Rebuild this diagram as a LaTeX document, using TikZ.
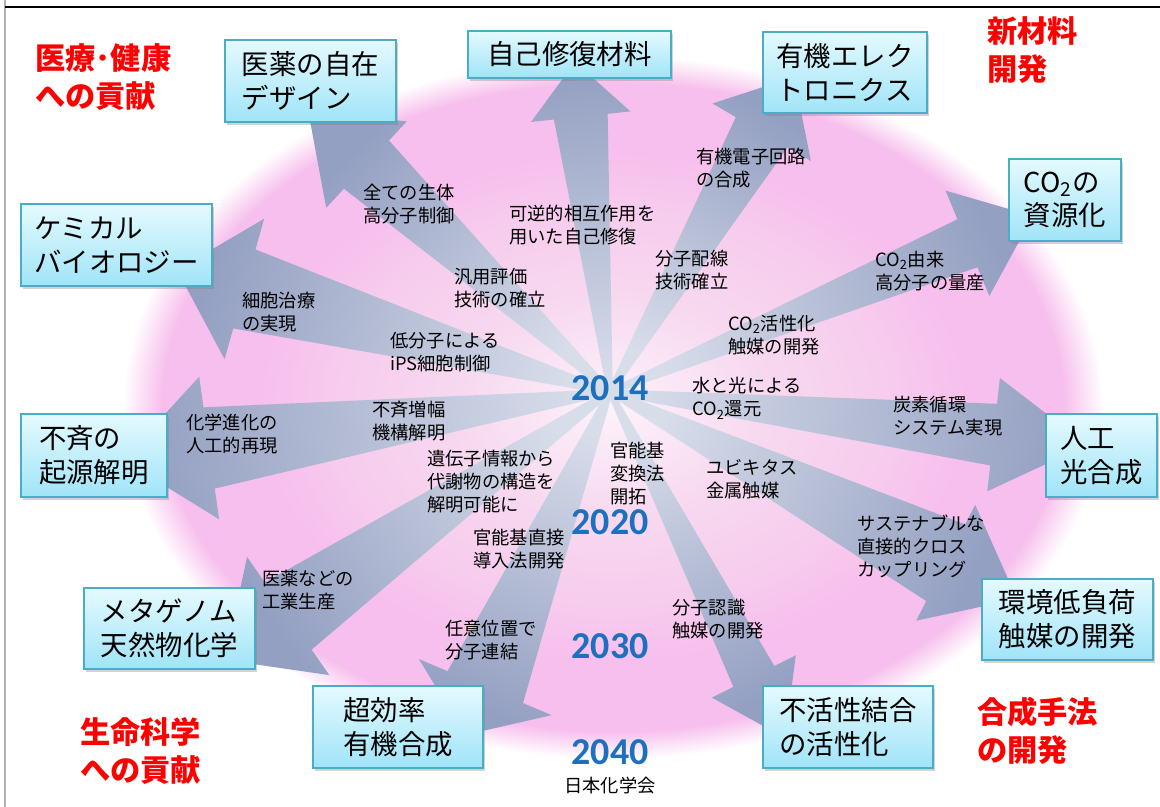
\documentclass[tikz,border=0pt]{standalone}
\usepackage{fontspec}
\setmainfont{Noto Sans CJK JP}
\newfontfamily\yearfont{Carlito}
\usepackage{tikz}
\usetikzlibrary{calc,shadows,positioning}

\definecolor{boxtop}{RGB}{228,250,254}
\definecolor{boxbot}{RGB}{160,228,248}
\definecolor{boxline}{RGB}{75,172,198}
\definecolor{raydark}{RGB}{148,160,194}
\definecolor{raylight}{RGB}{216,221,234}
\definecolor{goalred}{RGB}{255,0,0}
\definecolor{yearblue}{RGB}{28,112,190}
\definecolor{pinkcore}{RGB}{253,242,251}
\definecolor{pinklight}{RGB}{247,216,239}
\definecolor{pinkmid}{RGB}{247,204,238}
\definecolor{pinkdeep}{RGB}{247,191,237}

\pgfdeclareradialshading{glow}{\pgfpoint{0bp}{0bp}}{color(0bp)=(pinkcore); color(8bp)=(pinklight); color(14bp)=(pinkmid); color(18bp)=(pinkdeep); color(23bp)=(pinkdeep); color(25bp)=(white); color(50bp)=(white)}

\tikzstyle{box} = [rectangle, draw=boxline, line width=0.9pt, top color=boxtop, bottom color=boxbot, align=left, font=\fontsize{19.5}{24}\selectfont, drop shadow={opacity=0.35, shadow xshift=1.5pt, shadow yshift=-2pt}]
\tikzstyle{goal} = [anchor=west, align=left, text=goalred, inner sep=0pt, font=\bfseries\fontsize{21.5}{27}\selectfont]
\tikzstyle{note} = [anchor=west, align=left, inner sep=0pt, font=\fontsize{13}{16.3}\selectfont]
\tikzstyle{year} = [text=yearblue, inner sep=0pt, font=\yearfont\bfseries\fontsize{27}{27}\selectfont]
\tikzstyle{ray} = [top color=raydark, bottom color=raylight]

% wide tapered arrow: from, tip, head length, body half width, head half width (px)
\newcommand{\bigarrow}[5]{%
  \pgfmathanglebetweenpoints{\pgfpointanchor{#1}{center}}{\pgfpointanchor{#2}{center}}%
  \pgfmathsetmacro{\rayang}{\pgfmathresult-90}%
  \path ($(#2)!#3*0.025cm!(#1)$) coordinate (hb);%
  \shade [ray, shading angle=\rayang] ($(#1)!2pt!90:(#2)$) -- ($(hb)!#4*0.025cm!90:(#2)$) -- ($(hb)!#5*0.025cm!90:(#2)$) -- (#2) -- ($(hb)!#5*0.025cm!-90:(#2)$) -- ($(hb)!#4*0.025cm!-90:(#2)$) -- ($(#1)!2pt!-90:(#2)$) -- cycle;%
}

\begin{document}
\begin{tikzpicture}[x=0.025cm, y=-0.025cm]
\useasboundingbox (0,0) rectangle (1160,807);

% background
\shade [shading=glow] (613,407) ellipse [x radius=12.25cm, y radius=8.8cm];
\draw [gray!60, line width=1.2pt] (5,0) -- (5,807);
\draw [line width=0.9pt] (5,7) -- (1160,7);

\coordinate (hub) at (610,392);
\coordinate (tmed) at (308,110);
\coordinate (tself) at (575,62);
\coordinate (telec) at (794,77);
\coordinate (tco2) at (1033,216);
\coordinate (tchem) at (177,270);
\coordinate (tchiral) at (123,460);
\coordinate (tphoto) at (1087,445);
\coordinate (tgreen) at (1017,599);
\coordinate (tinert) at (785,738);
\coordinate (tmeta) at (225,660);
\coordinate (tsynth) at (465,735);

\bigarrow{hub}{tmed}{80}{33}{59}
\bigarrow{hub}{tself}{55}{27}{50}
\bigarrow{hub}{telec}{64}{30}{57}
\bigarrow{hub}{tco2}{71}{26}{57}
\bigarrow{hub}{tchem}{70}{41}{73}
\bigarrow{hub}{tchiral}{87}{41}{72}
\bigarrow{hub}{tphoto}{94}{31}{57}
\bigarrow{hub}{tgreen}{80}{43}{65}
\bigarrow{hub}{tinert}{69}{23}{47}
\bigarrow{hub}{tmeta}{77}{41}{72}
\bigarrow{hub}{tsynth}{52}{41}{72}

% milestones
\node (n1) [note] at (363,204.5) {全ての生体\\高分子制御};
\node (n2) [note] at (509,225) {可逆的相互作用を\\用いた自己修復};
\node (n3) [note] at (696,168) {有機電子回路\\の合成};
\node (n4) [note] at (655,270.5) {分子配線\\技術確立};
\node (n5) [note] at (454,288.5) {汎用評価\\技術の確立};
\node (n6) [note] at (390,352.5) {低分子による\\iPS細胞制御};
\node (n7) [note] at (242,312.5) {細胞治療\\の実現};
\node (n8) [note] at (372,421) {不斉増幅\\機構解明};
\node (n9) [note] at (186,434.5) {化学進化の\\人工的再現};
\node (n10) [note] at (427,482) {遺伝子情報から\\代謝物の構造を\\解明可能に};
\node (n11) [note] at (610,473.5) {官能基\\変換法\\開拓};
\node (n12) [note] at (473,549.5) {官能基直接\\導入法開発};
\node (n13) [note] at (706,479.5) {ユビキタス\\金属触媒};
\node (n14) [note] at (692,398.5) {水と光による\\CO\textsubscript{2}還元};
\node (n15) [note] at (728,335) {CO\textsubscript{2}活性化\\触媒の開発};
\node (n16) [note] at (875,271) {CO\textsubscript{2}由来\\高分子の量産};
\node (n17) [note] at (893,416) {炭素循環\\システム実現};
\node (n18) [note] at (857,546.5) {サステナブルな\\直接的クロス\\カップリング};
\node (n19) [note] at (672,619.5) {分子認識\\触媒の開発};
\node (n20) [note] at (445,640) {任意位置で\\分子連結};
\node (n21) [note] at (262,590) {医薬などの\\工業生産};

% years
\node (y2014) [year] at (610,388) {2014};
\node (y2020) [year] at (610,522) {2020};
\node (y2030) [year] at (610,646) {2030};
\node (y2040) [year] at (610,752) {2040};
\node (jcs) [font=\fontsize{13}{16}\selectfont, inner sep=0pt] at (610,786) {日本化学会};

% goals
\node (med) [box, minimum width=171*0.025cm, minimum height=82*0.025cm] at (310.5,81) {医薬の自在\\デザイン};
\node (self) [box, minimum width=203*0.025cm, minimum height=47*0.025cm] at (569.5,54.5) {自己修復材料};
\node (elec) [box, minimum width=164*0.025cm, minimum height=81*0.025cm] at (845,72.5) {有機エレク\\トロニクス};
\node (co2) [box, minimum width=112*0.025cm, minimum height=82*0.025cm] at (1065,200) {CO\textsubscript{2}の\\資源化};
\node (chem) [box, minimum width=191*0.025cm, minimum height=82*0.025cm] at (116.5,245) {ケミカル\\バイオロジー};
\node (chiral) [box, minimum width=146*0.025cm, minimum height=83*0.025cm] at (94,455.5) {不斉の\\起源解明};
\node (photo) [box, minimum width=111*0.025cm, minimum height=83*0.025cm] at (1101.5,455.5) {人工\\光合成};
\node (meta) [box, minimum width=171*0.025cm, minimum height=81*0.025cm] at (169.5,628.5) {メタゲノム\\天然物化学};
\node (synth) [box, minimum width=170*0.025cm, minimum height=82*0.025cm] at (398,727) {超効率\\有機合成};
\node (inert) [box, minimum width=170*0.025cm, minimum height=82*0.025cm] at (848,727) {不活性結合\\の活性化};
\node (green) [box, minimum width=171*0.025cm, minimum height=81*0.025cm] at (1067.5,619.5) {環境低負荷\\触媒の開発};

% fields
\node (f1) [goal] at (35,77) {医療･健康\\への貢献};
\node (f2) [goal] at (987,50) {新材料\\開発};
\node (f3) [goal] at (80,751) {生命科学\\への貢献};
\node (f4) [goal] at (977,731) {合成手法\\の開発};

\end{tikzpicture}
\end{document}
